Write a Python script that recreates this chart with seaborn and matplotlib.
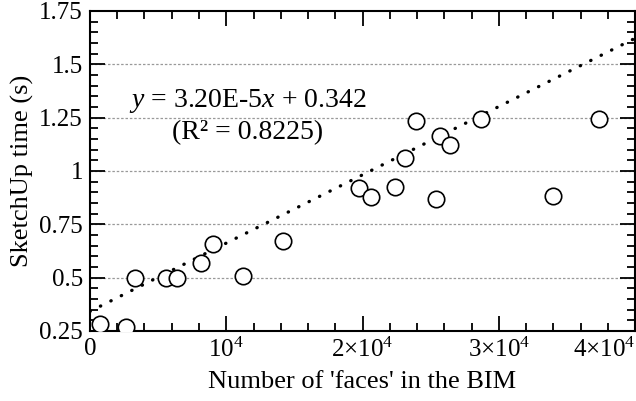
import numpy as np
import pandas as pd
import matplotlib
matplotlib.use("Agg")
import matplotlib.pyplot as plt
import seaborn as sns
from matplotlib.ticker import MultipleLocator, FuncFormatter

# number of faces in the BIM vs. SketchUp time
faces = [730, 2640, 3330, 5550, 6360, 8140, 9000, 11200, 14140,
         19760, 20620, 22400, 23110, 23920, 25390, 25700, 26410, 28660,
         33950, 37320]
times = [0.283, 0.270, 0.500, 0.500, 0.500, 0.570, 0.656, 0.510, 0.670,
         0.921, 0.876, 0.923, 1.063, 1.235, 0.867, 1.163, 1.124, 1.246,
         0.883, 1.246]

slope = 3.20e-5
intercept = 0.342
fit_x = [0, 40000]

x_ticks = [0, 10000, 20000, 30000, 40000]
x_ticklabels = ["0", "10$^{4}$", "2\u00d710$^{4}$", "3\u00d710$^{4}$", "4\u00d710$^{4}$"]

df = pd.DataFrame({"faces": faces, "time": times})
fit = pd.DataFrame({"faces": fit_x, "time": [slope * v + intercept for v in fit_x]})

sns.set_style("ticks")
plt.rcParams["font.family"] = ["Liberation Serif", "DejaVu Serif"]
plt.rcParams["mathtext.fontset"] = "custom"
plt.rcParams["mathtext.rm"] = "Liberation Serif"
plt.rcParams["mathtext.it"] = "Liberation Serif:italic"
plt.rcParams["text.color"] = "black"
plt.rcParams["axes.labelcolor"] = "black"

fig = plt.figure(figsize=(6.36, 4.01), dpi=100)
ax = fig.add_axes([0.1415, 0.1746, 0.857, 0.798])

for y in [0.5, 0.75, 1.0, 1.25, 1.5]:
    ax.axhline(y, color="#999999", lw=0.9, ls=(0, (2, 1.5)), zorder=0)

sns.lineplot(data=fit, x="faces", y="time", ax=ax, color="black", lw=2.4,
             dashes=False, zorder=2)
ax.lines[-1].set_linestyle((0, (0.1, 3.4)))
ax.lines[-1].set_dash_capstyle("round")

sns.scatterplot(data=df, x="faces", y="time", ax=ax, s=140, facecolor="white",
                edgecolor="black", linewidth=1.2, zorder=3)

ax.set_xlim(0, 40000)
ax.set_ylim(0.25, 1.75)
ax.set_xticks(x_ticks)
ax.set_xticklabels(x_ticklabels)
ax.xaxis.set_minor_locator(MultipleLocator(2000))
ax.yaxis.set_major_locator(MultipleLocator(0.25))
ax.yaxis.set_minor_locator(MultipleLocator(0.05))
ax.yaxis.set_major_formatter(FuncFormatter(lambda v, p: "%g" % v))

ax.tick_params(which="both", direction="in", top=True, right=True,
               width=1.3, labelsize=18, colors="black")
ax.tick_params(which="major", length=11, pad=5)
ax.tick_params(which="minor", length=6)
for s in ax.spines.values():
    s.set_linewidth(1.5)
    s.set_color("black")

# last x label pulled inside the figure
ax.get_xticklabels()[-1].set_horizontalalignment("right")

ax.set_xlabel("Number of 'faces' in the BIM", fontsize=19, labelpad=6)
ax.set_ylabel("SketchUp time (s)", fontsize=19, labelpad=4)

ax.text(0.29, 0.72, "$y$ = 3.20E-5$x$ + 0.342", transform=ax.transAxes,
        ha="center", va="center", fontsize=20)
ax.text(0.29, 0.62, "(R\u00b2 = 0.8225)", transform=ax.transAxes,
        ha="center", va="center", fontsize=20)

fig.savefig("out.png", dpi=100)
